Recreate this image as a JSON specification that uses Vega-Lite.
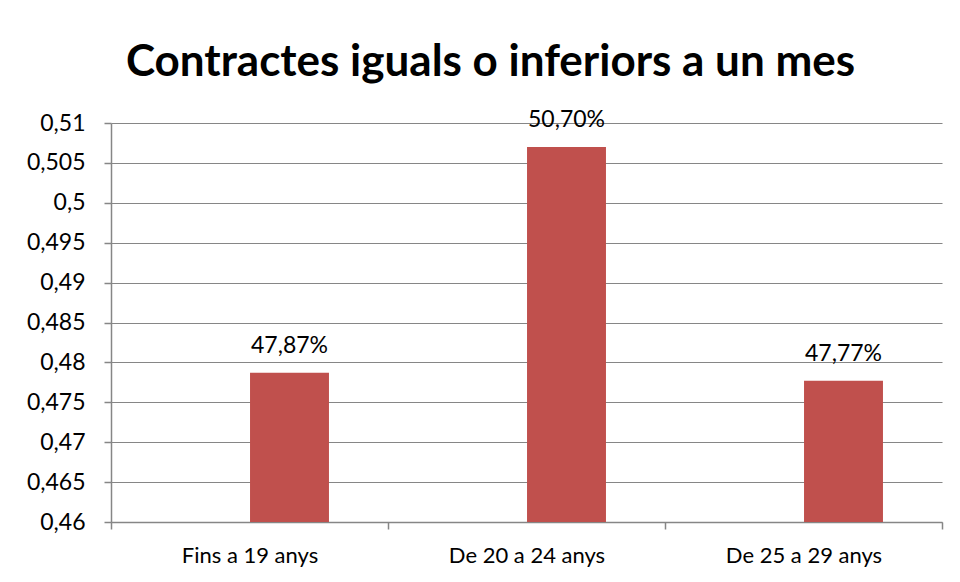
{
  "$schema": "https://vega.github.io/schema/vega-lite/v6.json",
  "width": 831,
  "height": 399,
  "autosize": {"type": "none"},
  "padding": {"left": 111, "top": 123, "right": 18, "bottom": 60},
  "background": "white",
  "config": {
    "locale": {"number": {"decimal": ",", "thousands": ".", "grouping": [3], "currency": ["", " €"]}},
    "font": "Lato",
    "view": {"stroke": null}
  },
  "title": {
    "text": "Contractes iguals o inferiors a un mes",
    "font": "Lato",
    "fontSize": 44,
    "fontWeight": "bold",
    "color": "#000000",
    "anchor": "middle",
    "frame": "group",
    "offset": 24,
    "dx": -36
  },
  "data": {
    "values": [
      {"grup": "Fins a 19 anys", "valor": 0.4787},
      {"grup": "De 20 a 24 anys", "valor": 0.507},
      {"grup": "De 25 a 29 anys", "valor": 0.4777}
    ]
  },
  "encoding": {
    "x": {
      "field": "grup",
      "type": "nominal",
      "sort": null,
      "title": null,
      "scale": {"paddingInner": 0, "paddingOuter": 0},
      "axis": {
        "tickBand": "extent",
        "grid": false,
        "labelAngle": 0,
        "labelFontSize": 22,
        "labelColor": "#000000",
        "labelPadding": 16,
        "tickSize": 7,
        "tickColor": "#868686",
        "domainColor": "#868686",
        "domainWidth": 1.5,
        "tickWidth": 1.5
      }
    },
    "y": {
      "field": "valor",
      "type": "quantitative",
      "title": null,
      "scale": {"domain": [0.46, 0.51], "zero": false, "nice": false},
      "axis": {
        "values": [0.46, 0.465, 0.47, 0.475, 0.48, 0.485, 0.49, 0.495, 0.5, 0.505, 0.51],
        "format": "~g",
        "labelFontSize": 23,
        "labelColor": "#000000",
        "labelPadding": 19,
        "tickSize": 7,
        "tickColor": "#868686",
        "gridColor": "#868686",
        "gridWidth": 1.2,
        "domainColor": "#868686",
        "domainWidth": 1.5,
        "tickWidth": 1.5
      }
    }
  },
  "layer": [
    {
      "mark": {"type": "bar", "color": "#C0504D", "width": {"band": 0.285}, "xOffset": 40, "clip": true}
    },
    {
      "mark": {"type": "text", "baseline": "alphabetic", "dy": -20, "xOffset": 40, "fontSize": 23, "color": "#000000", "font": "Lato"},
      "encoding": {
        "text": {"field": "valor", "type": "quantitative", "format": ".2%"}
      }
    }
  ]
}
